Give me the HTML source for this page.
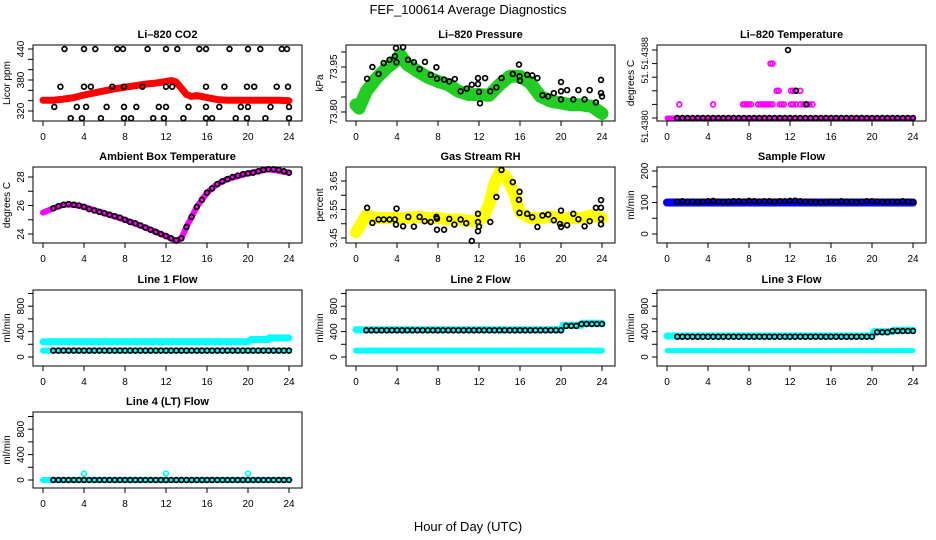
<!DOCTYPE html>
<html><head><meta charset="utf-8"><style>
body{margin:0;background:#fff}
svg{display:block;font-family:"Liberation Sans",Arial,sans-serif}
</style></head><body>
<svg id="c" width="936" height="540" viewBox="0 0 936 540">
<text x="468" y="14" text-anchor="middle" font-size="13">FEF_100614  Average Diagnostics</text>
<text x="468" y="531" text-anchor="middle" font-size="13">Hour of Day (UTC)</text>
</svg>
<script>
const X_TICKS = [0,4,8,12,16,20,24];
const HALF = [1,1.5,2,2.5,3,3.5,4,4.5,5,5.5,6,6.5,7,7.5,8,8.5,9,9.5,10,10.5,11,11.5,12,12.5,13,13.5,14,14.5,15,15.5,16,16.5,17,17.5,18,18.5,19,19.5,20,20.5,21,21.5,22,22.5,23,23.5,24];

// CO2
const CO2_RED_T = [0,1,2,3,4,5,6,7,8,9,10,11,12,12.5,13,13.5,14,14.5,15,16,17,18,19,20,21,22,23,24];
const CO2_RED_V = [341,341,343,346,351,355,359,363,366,369,372,374,377,379,376,364,352,348,350,346,342,341,341,341,341,341,341,340];
const CO2_BLK_T = [2.1,4.0,5.1,7.25,7.8,10.2,12.0,13.1,15.25,15.9,18.2,20.0,21.2,23.3,23.8, 1.7,4.0,4.66,6.76,7.9,9.7,12.0,12.6,15.9,17.7,19.9,20.6,22.8,23.9, 1.1,3.3,4.2,6.2,7.9,9.1,11.3,12.0,14.2,15.9,17.2,19.3,20.0,22.2,24.0, 2.7,3.8,5.65,7.9,8.6,10.75,11.8,13.7,15.9,16.5,18.8,19.9,21.7,24.0];
const CO2_BLK_V = [440,440,440,440,440,440,440,440,440,440,440,440,440,440,440, 367,367,367,367,367,367,367,367,367,367,367,367,367,367, 328,328,328,328,328,328,328,328,328,328,328,328,328,328,328, 306,306,306,306,306,306,306,306,306,306,306,306,306,306];

// Pressure
const PR_GRN_T = [0,0.3,1,2,3,4,4.3,5,6,7,8,9,10,11,12,13,14,15,16,17,18,19,20,21,22,23,24];
const PR_GRN_V = [73.824,73.813,73.869,73.913,73.947,73.974,73.991,73.958,73.936,73.916,73.902,73.891,73.869,73.858,73.858,73.856,73.891,73.919,73.919,73.897,73.852,73.836,73.830,73.824,73.824,73.819,73.795];
const PR_BLK_T = [1.08,1.6,2.2,2.7,3.27,3.8,3.9,3.95,4.6,5.07,5.65,6.2,6.73,7.3,7.84,7.9,8.6,9.1,9.64,10.2,10.8,11.3,11.9,11.9,12.0,12.1,12.6,13.1,13.7,14.2,15.3,15.9,15.95,16.0,16.7,17.2,17.7,18.2,18.75,19.3,20.0,20.0,20.0,20.6,21.2,21.7,22.3,22.8,23.4,23.9,23.9,24.0];
const PR_BLK_V = [73.911,73.95,73.927,73.963,73.974,73.986,74.013,73.966,74.016,73.974,73.966,73.943,73.967,73.924,73.949,73.911,73.908,73.902,73.91,73.869,73.878,73.891,73.893,73.913,73.867,73.829,73.913,73.869,73.882,73.913,73.927,73.958,73.919,73.904,73.924,73.922,73.913,73.856,73.852,73.863,73.869,73.9,73.842,73.873,73.842,73.873,73.842,73.873,73.832,73.907,73.863,73.852];

// Li-820 temperature
const LT_BAND_T = [0,24];
const LT_BAND_V = [51.4380,51.4380];
const LT_MAG_T = [1.2,4.5,7.4,7.6,7.8,8.0,8.2,8.9,9.1,9.3,9.5,9.7,9.9,10.1,10.3,11.0,11.2,11.4,12.1,12.3,12.6,13.0,13.3,13.6,13.9,14.2, 10.7,10.9,12.1,12.3,12.5,13.0, 10.1,10.3];
const LT_MAG_V = [51.43816,51.43816,51.43816,51.43816,51.43816,51.43816,51.43816,51.43816,51.43816,51.43816,51.43816,51.43816,51.43816,51.43816,51.43816,51.43816,51.43816,51.43816,51.43816,51.43816,51.43816,51.43816,51.43816,51.43816,51.43816,51.43816, 51.43832,51.43832,51.43832,51.43832,51.43832,51.43832, 51.43864,51.43864];
const LT_BLK_EXTRA_T = [11.8,12.6,13.6];
const LT_BLK_EXTRA_V = [51.4388,51.43832,51.43816];
const LT_BLK_V = [51.4380];

// Ambient box temperature
const AMB_MAG_T = [0,1,2,3,4,6,8,10,12,13,13.5,14,15,16,17,18,20,22,24];
const AMB_MAG_V = [25.5,25.8,26.05,26.05,25.9,25.45,25.0,24.45,23.85,23.5,23.7,24.5,25.9,26.9,27.5,27.85,28.25,28.55,28.3];
const AMB_BLK_V = [25.8,25.95,26.05,26.1,26.05,26.0,25.9,25.75,25.65,25.55,25.45,25.35,25.25,25.15,25.0,24.85,24.75,24.6,24.45,24.3,24.15,24.0,23.85,23.7,23.55,23.7,24.5,25.2,25.9,26.4,26.9,27.2,27.5,27.7,27.85,28.0,28.1,28.2,28.25,28.3,28.4,28.5,28.55,28.55,28.5,28.4,28.3];

// Gas stream RH
const RH_YEL_T = [0,0.5,1,2,3,4,5,6,7,8,9,10,11,12,12.5,13,13.5,14,14.5,15,15.5,16,17,18,19,20,21,22,23,24];
const RH_YEL_V = [3.47,3.50,3.53,3.52,3.52,3.52,3.52,3.525,3.52,3.52,3.515,3.515,3.51,3.51,3.53,3.57,3.64,3.68,3.67,3.64,3.60,3.54,3.52,3.52,3.525,3.52,3.52,3.52,3.53,3.52];
const RH_BLK_T = [1.08,1.6,2.2,2.7,3.27,3.8,3.9,3.95,4.6,5.1,5.65,6.2,6.7,7.3,7.84,7.9,7.9,8.6,9.1,9.6,10.2,10.75,11.3,11.9,11.9,11.9,12.0,13.1,13.7,14.2,15.3,15.9,15.95,15.95,16.7,17.2,17.7,18.2,18.75,19.3,19.9,20.0,20.0,20.6,21.2,21.7,22.3,22.8,23.4,23.9,23.9,23.9,23.9];
const RH_BLK_V = [3.556,3.503,3.515,3.515,3.515,3.515,3.497,3.553,3.491,3.524,3.49,3.524,3.509,3.506,3.524,3.479,3.518,3.479,3.517,3.497,3.515,3.502,3.44,3.474,3.535,3.506,3.49,3.506,3.594,3.689,3.646,3.584,3.612,3.538,3.535,3.523,3.489,3.529,3.532,3.512,3.499,3.489,3.546,3.495,3.535,3.516,3.491,3.509,3.556,3.583,3.556,3.517,3.498];

// Sample flow
const SF_BLU_T = [0,24];
const SF_BLU_V = [100,100];
const SF_BLK_V = [103,104,102,103,102,103,104,105,103,102,103,104,104,103,105,104,103,104,104,103,104,104,105,106,104,103,103,102,101,102,103,102,104,103,103,102,103,104,104,103,103,102,103,102,104,103,102];

// Line flows
const L1_CYAN_T = [0,20,20.3,22,22.1,24];
const L1_CYAN_V = [240,240,275,275,300,300];
const L1_LOW_T = [0,24];
const L1_LOW_V = [100,100];
const L1_BLK_V = [100,100,100,100,100,100,100,100,100,100,100,100,100,100,100,100,100,100,100,100,100,100,100,100,100,100,100,100,100,100,100,100,100,100,100,100,100,100,100,100,100,100,100,100,100,100,100];
const L2_CYAN_T = [0,20,20.2,22,22.1,24];
const L2_CYAN_V = [430,430,500,500,530,530];
const L2_LOW_T = [0,24];
const L2_LOW_V = [100,100];
const L2_BLK_V = [420,420,420,420,420,420,420,420,420,420,420,420,420,420,420,420,420,420,420,420,420,420,420,420,420,420,420,420,420,420,420,420,420,420,420,420,420,420,420,490,490,490,520,520,520,520,520];
const L3_CYAN_T = [0,20,20.2,22,22.1,24];
const L3_CYAN_V = [330,330,400,400,420,420];
const L3_LOW_T = [0,24];
const L3_LOW_V = [100,100];
const L3_BLK_V = [320,320,320,320,320,320,320,320,320,320,320,320,320,320,320,320,320,320,320,320,320,320,320,320,320,320,320,320,320,320,320,320,320,320,320,320,320,320,320,390,390,390,410,410,410,410,410];
const L4_CYAN_T = [0,24];
const L4_CYAN_V = [0,0];
const L4_SPIKE_T = [4,12,20];
const L4_SPIKE_V = [100,100,100];
const L4_BLK_V = [0,0,0,0,0,0,0,0,0,0,0,0,0,0,0,0,0,0,0,0,0,0,0,0,0,0,0,0,0,0,0,0,0,0,0,0,0,0,0,0,0,0,0,0,0,0,0];

const NS = 'http://www.w3.org/2000/svg';
const svg = document.getElementById('c');
const COLS = [33,346,657], ROWS = [45,167,290,412], BW = 269, BH = 76;
function mk(tag, attrs, parent){ const e=document.createElementNS(NS,tag); for(const k in attrs) e.setAttribute(k,attrs[k]); (parent||svg).appendChild(e); return e; }

function panel(cfg){
  const L=COLS[cfg.col], T=ROWS[cfg.row];
  const g=mk('g',{});
  
  
  const xs = t => L+10+t*246/24;
  const ys = v => T+cfg.o1+(v-cfg.v1)*(cfg.o2-cfg.o1)/(cfg.v2-cfg.v1);
  const tt=mk('text',{x:L+BW/2,y:T-7,'text-anchor':'middle','font-size':11,'font-weight':'bold'},g);
  tt.textContent=cfg.title;
  
  
  cfg.series.forEach(s=>{
    if(s.type==='band'){
      const p=mk('polyline',{points:s.t.map((t,i)=>xs(t).toFixed(1)+','+ys(s.v[i]).toFixed(1)).join(' '),fill:'none',stroke:s.color,'stroke-width':s.w,'stroke-linejoin':'round','stroke-linecap':'round'},g);
      
      
    } else {
      s.v.forEach((v,i)=>{
        const t = s.t[i];
        const c=mk('circle',{cx:xs(t).toFixed(1),cy:ys(v).toFixed(1),r:2.4,fill:'none',stroke:s.color,'stroke-width':1.7},g);
        
        
      });
    }
  });
  const b=mk('rect',{x:L,y:T,width:BW,height:BH,fill:'none',stroke:'#000','stroke-width':1},g);
  
  
  X_TICKS.forEach(t=>{
    mk('line',{x1:xs(t),x2:xs(t),y1:T+BH,y2:T+BH+5,stroke:'#000'},g);
    const tx=mk('text',{x:xs(t),y:T+BH+19,'text-anchor':'middle','font-size':10},g);
    tx.textContent=t;
    
    
  });
  cfg.yt.forEach(v=>mk('line',{x1:L,x2:L-5,y1:ys(v),y2:ys(v),stroke:'#000'},g));
  cfg.yl.forEach((v,i)=>{
    const y=ys(v);
    const tx=mk('text',{x:0,y:0,transform:`translate(${L-9},${y}) rotate(-90)`,'text-anchor':'middle','font-size':cfg.yfs||10},g);
    tx.textContent=cfg.ylt[i];
    
    
  });
  const yl=mk('text',{x:0,y:0,transform:`translate(${L-23},${T+BH/2}) rotate(-90)`,'text-anchor':'middle','font-size':10},g);
  yl.textContent=cfg.ylab;
  
  
}

const FLOW_T=[0,200,400,600,800,1000], FLOW_L=[0,400,800], FLOW_LT=['0','400','800'];
panel({name:'co2-panel',col:0,row:0,title:'Li\u2013820 CO2',ylab:'Licor ppm',v1:320,o1:66,v2:440,o2:4,
  yt:[320,340,360,380,400,420,440],yl:[320,380,440],ylt:['320','380','440'],
  series:[{type:'band',t:CO2_RED_T,v:CO2_RED_V,color:'#ff0000',w:7,name:'co2-red-series'},
          {type:'pts',t:CO2_BLK_T,v:CO2_BLK_V,color:'#000',name:'co2-black-point'}]});
panel({name:'pressure-panel',col:1,row:0,title:'Li\u2013820 Pressure',ylab:'kPa',v1:73.80,o1:67,v2:73.95,o2:22,
  yt:[73.80,73.85,73.90,73.95,74.00],yl:[73.80,73.95],ylt:['73.80','73.95'],
  series:[{type:'band',t:PR_GRN_T,v:PR_GRN_V,color:'#22cc22',w:13,name:'pressure-green-series'},
          {type:'pts',t:PR_BLK_T,v:PR_BLK_V,color:'#000',name:'pressure-black-point'}]});
panel({name:'li820-temp-panel',col:2,row:0,title:'Li\u2013820 Temperature',ylab:'degrees C',v1:51.4380,o1:73,v2:51.4388,o2:5,yfs:9,
  yt:[51.4380,51.43816,51.43832,51.43848,51.43864,51.4388],yl:[51.43790,51.43848,51.43876],ylt:['51.4380','51.','51.4388'],
  series:[{type:'band',t:LT_BAND_T,v:LT_BAND_V,color:'#ff00ff',w:5,name:'li820-temp-band'},
          {type:'pts',t:LT_MAG_T,v:LT_MAG_V,color:'#ff00ff',name:'li820-temp-magenta-point'},
          {type:'pts',t:HALF,v:HALF.map(()=>LT_BLK_V[0]),color:'#000',name:'li820-temp-black-point'},
          {type:'pts',t:LT_BLK_EXTRA_T,v:LT_BLK_EXTRA_V,color:'#000',name:'li820-temp-black-point'}]});
panel({name:'ambient-temp-panel',col:0,row:1,title:'Ambient Box Temperature',ylab:'degrees C',v1:24,o1:67,v2:28,o2:10,
  yt:[24,25,26,27,28],yl:[24,26,28],ylt:['24','26','28'],
  series:[{type:'band',t:AMB_MAG_T,v:AMB_MAG_V,color:'#ff00ff',w:6,name:'ambient-magenta-series'},
          {type:'pts',t:HALF,v:AMB_BLK_V,color:'#000',name:'ambient-black-point'}]});
panel({name:'rh-panel',col:1,row:1,title:'Gas Stream RH',ylab:'percent',v1:3.45,o1:71,v2:3.65,o2:14,
  yt:[3.45,3.50,3.55,3.60,3.65],yl:[3.45,3.55,3.65],ylt:['3.45','3.55','3.65'],
  series:[{type:'band',t:RH_YEL_T,v:RH_YEL_V,color:'#ffff00',w:12,name:'rh-yellow-series'},
          {type:'pts',t:RH_BLK_T,v:RH_BLK_V,color:'#000',name:'rh-black-point'}]});
panel({name:'sample-flow-panel',col:2,row:1,title:'Sample Flow',ylab:'ml/min',v1:0,o1:67,v2:200,o2:4,
  yt:[0,50,100,150,200],yl:[0,100,200],ylt:['0','100','200'],
  series:[{type:'band',t:SF_BLU_T,v:SF_BLU_V,color:'#0000ff',w:8,name:'sample-flow-blue-series'},
          {type:'pts',t:HALF,v:SF_BLK_V,color:'#000',name:'sample-flow-black-point'}]});
panel({name:'line1-flow-panel',col:0,row:2,title:'Line 1 Flow',ylab:'ml/min',v1:0,o1:67,v2:1000,o2:3.5,
  yt:FLOW_T,yl:FLOW_L,ylt:FLOW_LT,
  series:[{type:'band',t:L1_CYAN_T,v:L1_CYAN_V,color:'#00ffff',w:7,name:'line1-cyan-series'},
          {type:'band',t:L1_LOW_T,v:L1_LOW_V,color:'#00ffff',w:6,name:'line1-cyan-low-series'},
          {type:'pts',t:HALF,v:L1_BLK_V,color:'#000',name:'line1-black-point'}]});
panel({name:'line2-flow-panel',col:1,row:2,title:'Line 2 Flow',ylab:'ml/min',v1:0,o1:67,v2:1000,o2:3.5,
  yt:FLOW_T,yl:FLOW_L,ylt:FLOW_LT,
  series:[{type:'band',t:L2_CYAN_T,v:L2_CYAN_V,color:'#00ffff',w:7,name:'line2-cyan-series'},
          {type:'band',t:L2_LOW_T,v:L2_LOW_V,color:'#00ffff',w:6,name:'line2-cyan-low-series'},
          {type:'pts',t:HALF,v:L2_BLK_V,color:'#000',name:'line2-black-point'}]});
panel({name:'line3-flow-panel',col:2,row:2,title:'Line 3 Flow',ylab:'ml/min',v1:0,o1:67,v2:1000,o2:3.5,
  yt:FLOW_T,yl:FLOW_L,ylt:FLOW_LT,
  series:[{type:'band',t:L3_CYAN_T,v:L3_CYAN_V,color:'#00ffff',w:7,name:'line3-cyan-series'},
          {type:'band',t:L3_LOW_T,v:L3_LOW_V,color:'#00ffff',w:5,name:'line3-cyan-low-series'},
          {type:'pts',t:HALF,v:L3_BLK_V,color:'#000',name:'line3-black-point'}]});
panel({name:'line4-flow-panel',col:0,row:3,title:'Line 4 (LT) Flow',ylab:'ml/min',v1:0,o1:68,v2:1000,o2:4.5,
  yt:FLOW_T,yl:FLOW_L,ylt:FLOW_LT,
  series:[{type:'band',t:L4_CYAN_T,v:L4_CYAN_V,color:'#00ffff',w:6,name:'line4-cyan-series'},
          {type:'pts',t:L4_SPIKE_T,v:L4_SPIKE_V,color:'#00ffff',name:'line4-cyan-spike'},
          {type:'pts',t:HALF,v:L4_BLK_V,color:'#000',name:'line4-black-point'}]});
</script>
</body></html>
